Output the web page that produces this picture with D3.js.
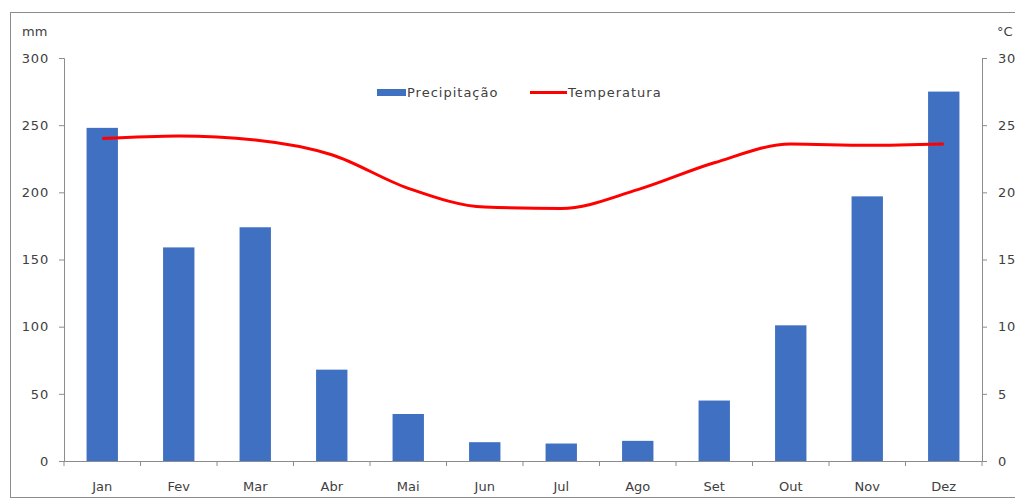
<!DOCTYPE html>
<html>
<head>
<meta charset="utf-8">
<script src="https://cdn.jsdelivr.net/npm/d3@7"></script>
<style>
  body { margin: 0; background: #fff; }
  svg { display: block; }
  text { font-family: "DejaVu Sans", Verdana, sans-serif; fill: #404040; }
</style>
</head>
<body>
<svg id="chart" width="1015" height="500"></svg>
<script>
// Monthly climate data
const months = ["Jan", "Fev", "Mar", "Abr", "Mai", "Jun", "Jul", "Ago", "Set", "Out", "Nov", "Dez"];
const precipitation = [248, 159, 174, 68, 35, 14, 13, 15, 45, 101, 197, 275];
const temperature = [24.0, 24.2, 23.9, 22.8, 20.3, 18.9, 18.8, 20.2, 22.2, 23.6, 23.5, 23.6];
const mmTicks = [0, 50, 100, 150, 200, 250, 300];
const tempTicks = [0, 5, 10, 15, 20, 25, 30];

const svg = d3.select("#chart");
const plotLeft = 64, plotRight = 982, plotTop = 58, plotBottom = 461;
const barColor = "#3f70c2";

// outer frame
svg.append("rect").attr("x", 10.5).attr("y", 12.5).attr("width", 1010).attr("height", 485)
  .attr("fill", "none").attr("stroke", "#8c8c8c").attr("stroke-width", 1);

const x = d3.scaleBand().domain(months).range([plotLeft, plotRight]).paddingInner(0.59).paddingOuter(0.295);
const xBand = d3.scaleBand().domain(months).range([plotLeft, plotRight]);
const yL = d3.scaleLinear().domain([0, 300]).range([plotBottom, plotTop]);
const yR = d3.scaleLinear().domain([0, 30]).range([plotBottom, plotTop]);

// bars
svg.append("g").selectAll("rect").data(months).join("rect")
  .attr("x", d => x(d))
  .attr("width", x.bandwidth())
  .attr("y", (d, i) => yL(precipitation[i]))
  .attr("height", (d, i) => plotBottom - yL(precipitation[i]))
  .attr("fill", barColor);

// left axis
const gL = svg.append("g").attr("transform", `translate(${plotLeft},0)`)
  .call(d3.axisLeft(yL).tickValues(mmTicks).tickSize(5).tickPadding(10));
// right axis
const gR = svg.append("g").attr("transform", `translate(${plotRight},0)`)
  .call(d3.axisRight(yR).tickValues(tempTicks).tickSize(5).tickPadding(11));
[gL, gR].forEach(g => {
  g.select(".domain").attr("stroke", "#8c8c8c");
  g.selectAll(".tick line").attr("stroke", "#8c8c8c");
  g.selectAll("text").attr("font-size", 13).attr("fill", "#404040")
    .attr("letter-spacing", 0.8)
    .style("font-family", "'DejaVu Sans', Verdana, sans-serif");
});

// bottom axis with ticks between categories
const gB = svg.append("g").attr("transform", `translate(0,${plotBottom})`);
gB.append("line").attr("x1", plotLeft).attr("x2", plotRight).attr("y1", 0.5).attr("y2", 0.5).attr("stroke", "#8c8c8c");
gB.selectAll("line.tk").data(months.concat(["end"])).join("line").attr("class", "tk")
  .attr("x1", (d, i) => plotLeft + i * xBand.step()).attr("x2", (d, i) => plotLeft + i * xBand.step())
  .attr("y1", 0).attr("y2", 5).attr("stroke", "#8c8c8c");
gB.selectAll("text").data(months).join("text")
  .attr("x", d => xBand(d) + xBand.bandwidth() / 2).attr("y", 30)
  .attr("text-anchor", "middle").attr("font-size", 13).text(d => d);

// temperature line
const line = d3.line()
  .x((d, i) => xBand(months[i]) + xBand.bandwidth() / 2)
  .y(d => yR(d))
  .curve(d3.curveMonotoneX);
svg.append("path").datum(temperature).attr("d", line)
  .attr("fill", "none").attr("stroke", "#ff0000").attr("stroke-width", 3);

// units
svg.append("text").attr("x", 22).attr("y", 36).attr("font-size", 13).text("mm");
svg.append("text").attr("x", 997).attr("y", 36).attr("font-size", 13).text("°C");

// legend
const lg = svg.append("g");
lg.append("rect").attr("x", 377).attr("y", 89).attr("width", 29).attr("height", 7).attr("fill", barColor);
lg.append("text").attr("x", 407).attr("y", 97).attr("font-size", 13).attr("letter-spacing", 1).text("Precipitação");
lg.append("line").attr("x1", 530).attr("x2", 567).attr("y1", 92.5).attr("y2", 92.5)
  .attr("stroke", "#ff0000").attr("stroke-width", 3);
lg.append("text").attr("x", 568).attr("y", 97).attr("font-size", 13).attr("letter-spacing", 1).text("Temperatura");
</script>
</body>
</html>
